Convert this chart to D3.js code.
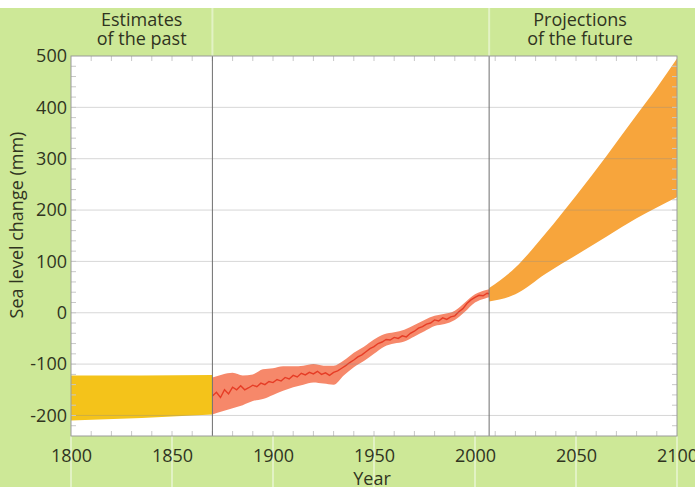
<!DOCTYPE html>
<html>
<head>
<meta charset="utf-8">
<script src="https://cdn.jsdelivr.net/npm/d3@7"></script>
<style>
  body { margin: 0; background: #fff; }
  text { font-family: "Open Sans", "Noto Sans", sans-serif; fill: #30341f; }
</style>
</head>
<body>
<script>
// x ticks / y ticks
const xTicks = [1800, 1850, 1900, 1950, 2000, 2050, 2100];
const yTicks = [-200, -100, 0, 100, 200, 300, 400, 500];

// estimates of the past (band)
const pastYears = [1800, 1835, 1870];
const pastUpper = [-122, -122, -121];
const pastLower = [-210, -205, -198];

// tide gauge record (line)
const obsYears = [1870, 1872, 1874, 1876, 1878, 1880, 1882, 1884, 1886, 1888,
  1890, 1892, 1894, 1896, 1898, 1900, 1902, 1904, 1906, 1908,
  1910, 1912, 1914, 1916, 1918, 1920, 1922, 1924, 1926, 1928,
  1930, 1932, 1934, 1936, 1938, 1940, 1942, 1944, 1946, 1948,
  1950, 1952, 1954, 1956, 1958, 1960, 1962, 1964, 1966, 1968,
  1970, 1972, 1974, 1976, 1978, 1980, 1982, 1984, 1986, 1988,
  1990, 1992, 1994, 1996, 1998, 2000, 2002, 2004, 2006, 2007];
const obsLevel = [-162, -155, -165, -150, -158, -145, -150, -142, -150, -146,
  -141, -144, -137, -140, -134, -136, -130, -133, -126, -129,
  -122, -125, -118, -121, -116, -119, -114, -120, -117, -122,
  -116, -113, -108, -103, -97, -92, -86, -82, -76, -70,
  -66, -60, -57, -52, -53, -48, -50, -45, -47, -40,
  -36, -30, -27, -22, -20, -14, -16, -10, -13, -8,
  -6, 2, 8, 18, 25, 30, 34, 33, 38, 37];

// tide gauge uncertainty band
const bandYears = [1870, 1875, 1880, 1885, 1890, 1895, 1900, 1905, 1910, 1915,
  1920, 1925, 1930, 1935, 1940, 1945, 1950, 1955, 1960, 1965,
  1970, 1975, 1980, 1985, 1990, 1995, 2000, 2005, 2007];
const bandUpper = [-126, -120, -117, -122, -120, -110, -108, -104, -104, -103,
  -100, -103, -103, -93, -78, -66, -52, -42, -38, -33,
  -24, -14, -6, -2, 4, 20, 36, 44, 46];
const bandLower = [-198, -192, -186, -180, -172, -168, -160, -152, -145, -140,
  -136, -138, -140, -122, -106, -94, -80, -66, -60, -56,
  -46, -36, -26, -22, -14, 2, 20, 28, 30];

// projections of the future
const projYears = [2007, 2020, 2035, 2050, 2065, 2080, 2090, 2100];
const projUpper = [48, 88, 155, 228, 305, 385, 438, 495];
const projLower = [22, 36, 76, 112, 148, 184, 205, 225];

const dividers = [1870, 2007];

const W = 695, H = 487;
const plot = { left: 71, right: 677, top: 56, bottom: 436 };

const x = d3.scaleLinear().domain([1800, 2100]).range([plot.left, plot.right]);
const y = d3.scaleLinear().domain([-240, 500]).range([plot.bottom, plot.top]);

const svg = d3.select("body").append("svg")
  .attr("width", W)
  .attr("height", H);

// green page
svg.append("rect").attr("width", W).attr("height", H).attr("fill", "#cde897");
svg.append("rect").attr("width", W).attr("height", 8).attr("fill", "#ffffff");

// faint light streaks in the green
svg.selectAll(".streak")
  .data(xTicks)
  .enter().append("line")
  .attr("x1", d => x(d)).attr("x2", d => x(d))
  .attr("y1", plot.bottom).attr("y2", H)
  .attr("stroke", "#e2f2c4").attr("stroke-width", 2);
svg.selectAll(".hstreak")
  .data(dividers)
  .enter().append("line")
  .attr("x1", d => x(d)).attr("x2", d => x(d))
  .attr("y1", 8).attr("y2", plot.top)
  .attr("stroke", "#e2f2c4").attr("stroke-width", 2);

svg.append("rect")
  .attr("x", plot.left).attr("y", plot.top)
  .attr("width", plot.right - plot.left).attr("height", plot.bottom - plot.top)
  .attr("fill", "#ffffff");

const area = d3.area()
  .x(d => x(d[0]))
  .y0(d => y(d[2]))
  .y1(d => y(d[1]));

svg.append("path")
  .datum(pastYears.map((d, i) => [d, pastUpper[i], pastLower[i]]))
  .attr("d", area)
  .attr("fill", "#f4c31a");

svg.append("path")
  .datum(bandYears.map((d, i) => [d, bandUpper[i], bandLower[i]]))
  .attr("d", area.curve(d3.curveMonotoneX))
  .attr("fill", "#f6886a");

svg.append("path")
  .datum(obsYears.map((d, i) => [d, obsLevel[i]]))
  .attr("d", d3.line().x(d => x(d[0])).y(d => y(d[1])))
  .attr("fill", "none")
  .attr("stroke", "#e63d26")
  .attr("stroke-width", 1.4);

svg.append("path")
  .datum(projYears.map((d, i) => [d, projUpper[i], projLower[i]]))
  .attr("d", area.curve(d3.curveMonotoneX))
  .attr("fill", "#f7a53c");

// gridlines
svg.selectAll(".grid")
  .data(yTicks.filter(d => d < 500))
  .enter().append("line")
  .attr("x1", plot.left).attr("x2", plot.right)
  .attr("y1", d => y(d)).attr("y2", d => y(d))
  .attr("stroke", "#8c8c8c").attr("stroke-opacity", 0.35);

// minor ticks inside the frame
const minorX = d3.range(1810, 2100, 10);
const minorY = d3.range(-220, 500, 20);
const tickCol = "#c8c8c8";
svg.selectAll(".mxt").data(minorX).enter().append("line")
  .attr("x1", d => x(d)).attr("x2", d => x(d))
  .attr("y1", plot.top).attr("y2", plot.top + 5)
  .attr("stroke", tickCol);
svg.selectAll(".mxb").data(minorX).enter().append("line")
  .attr("x1", d => x(d)).attr("x2", d => x(d))
  .attr("y1", plot.bottom).attr("y2", plot.bottom - 5)
  .attr("stroke", tickCol);
svg.selectAll(".myl").data(minorY).enter().append("line")
  .attr("x1", plot.left).attr("x2", plot.left + 5)
  .attr("y1", d => y(d)).attr("y2", d => y(d))
  .attr("stroke", tickCol);
svg.selectAll(".myr").data(minorY).enter().append("line")
  .attr("x1", plot.right).attr("x2", plot.right - 5)
  .attr("y1", d => y(d)).attr("y2", d => y(d))
  .attr("stroke", tickCol);

// dividers
svg.selectAll(".div")
  .data(dividers)
  .enter().append("line")
  .attr("x1", d => x(d)).attr("x2", d => x(d))
  .attr("y1", plot.top).attr("y2", plot.bottom)
  .attr("stroke", "#6e6e6e").attr("stroke-width", 1);

// frame
svg.append("rect")
  .attr("x", plot.left).attr("y", plot.top)
  .attr("width", plot.right - plot.left).attr("height", plot.bottom - plot.top)
  .attr("fill", "none")
  .attr("stroke", "#9a9a9a");

// axes
const xAxis = svg.append("g")
  .attr("transform", `translate(0,${plot.bottom})`)
  .call(d3.axisBottom(x).tickValues(xTicks).tickFormat(d => String(d)).tickSize(0).tickPadding(13));
const yAxis = svg.append("g")
  .attr("transform", `translate(${plot.left},0)`)
  .call(d3.axisLeft(y).tickValues(yTicks).tickFormat(d => String(d)).tickSize(0).tickPadding(4));
[xAxis, yAxis].forEach(g => {
  g.select(".domain").remove();
  g.selectAll("text")
    .style("font-family", "'Open Sans', sans-serif")
    .style("font-size", "18px")
    .attr("fill", "#30341f");
});

// titles
svg.append("text")
  .attr("transform", "translate(17,225) rotate(-90)")
  .attr("dy", "0.35em")
  .attr("text-anchor", "middle")
  .style("font-size", "18px")
  .text("Sea level change (mm)");

svg.append("text")
  .attr("x", (plot.left + plot.right) / 2 - 2)
  .attr("y", 485)
  .attr("text-anchor", "middle")
  .style("font-size", "18px")
  .text("Year");

const headers = [
  { cx: (x(1800) + x(1870)) / 2, lines: ["Estimates", "of the past"] },
  { cx: (x(2007) + x(2100)) / 2 - 3, lines: ["Projections", "of the future"] }
];
headers.forEach(h => {
  h.lines.forEach((t, i) => {
    svg.append("text")
      .attr("x", h.cx)
      .attr("y", 26 + i * 19)
      .attr("text-anchor", "middle")
      .style("font-size", "18px")
      .text(t);
  });
});
</script>
</body>
</html>
